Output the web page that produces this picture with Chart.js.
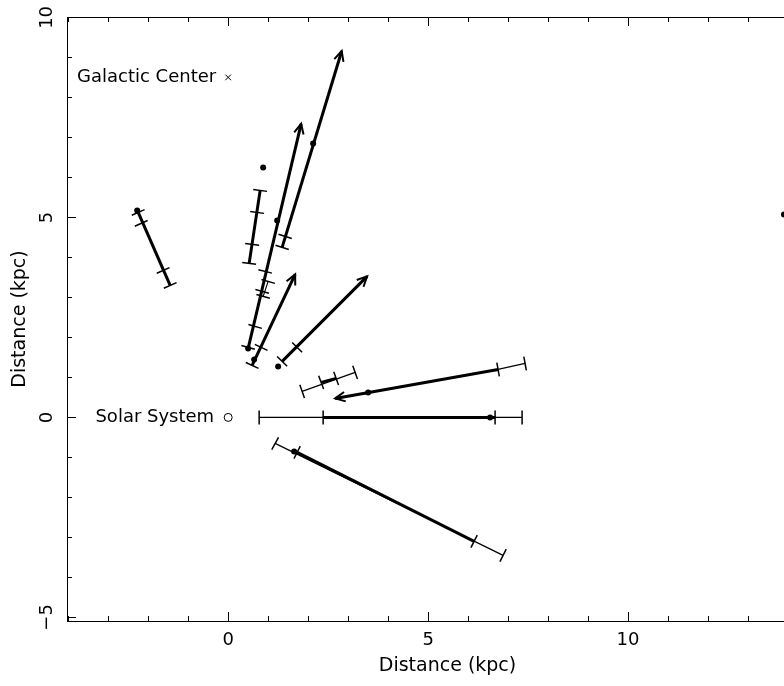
<!DOCTYPE html>
<html>
<head>
<meta charset="utf-8">
<script src="https://cdn.jsdelivr.net/npm/chart.js@4.4.1/dist/chart.umd.min.js"></script>
<style>
  html, body { margin: 0; padding: 0; background: #fff; overflow: hidden; }
  #wrap { position: relative; width: 860px; height: 686px; }
</style>
</head>
<body>
<div id="wrap"><canvas id="map-chart"></canvas></div>
<script>
// 坐标单位：kpc
const xTicks = [0, 5, 10];
const yTicks = [-5, 0, 5, 10];
const sunPos = [0, 0];
const centerPos = [0, 8.5];
const sunLabel = 'Solar System';
const centerLabel = 'Galactic Center';

// 细线：外侧距离范围 [x1, y1, x2, y2]
const thinSegs = [
  [0.775, 0, 7.35, 0],
  [1.175, -0.65, 6.875, -3.45],
  [1.85, 0.65, 3.175, 1.125],
  [6.75, 1.2, 7.425, 1.35],
  [1.0, 3.4, 0.875, 3.025]
];

// 粗线：内侧距离范围
const thickSegs = [
  [2.375, 0, 6.675, 0],
  [1.725, -0.875, 6.15, -3.1],
  [2.325, 0.875, 2.7, 0.975],
  [-2.25, 5.125, -1.45, 3.3],
  [0.8, 5.675, 0.525, 3.85]
];

// 箭头（无界范围），箭头在终点
const arrowSegs = [
  [1.35, 4.25, 2.84, 9.16],
  [0.5, 1.725, 1.825, 7.34],
  [0.6, 1.3, 1.675, 3.575],
  [1.35, 1.4, 3.475, 3.525],
  [6.75, 1.2, 2.675, 0.475]
];

// 端帽位置（垂直于视线方向）
const capPts = [
  [0.775, 0], [2.375, 0], [6.675, 0], [7.35, 0],
  [1.175, -0.65], [1.725, -0.875], [6.15, -3.1], [6.875, -3.45],
  [1.85, 0.65], [2.325, 0.875], [2.7, 0.975], [3.175, 1.125],
  [6.75, 1.2], [7.425, 1.35],
  [-2.25, 5.125], [-2.175, 4.85], [-1.625, 3.675], [-1.45, 3.3],
  [0.8, 5.675], [0.725, 5.125], [0.6, 4.325], [0.525, 3.85],
  [1.35, 4.25], [1.425, 4.525],
  [0.925, 3.65], [0.85, 3.15], [0.675, 2.275], [0.5, 1.75],
  [1.0, 3.4], [0.875, 3.025],
  [0.6, 1.3], [0.825, 1.75],
  [1.35, 1.4], [1.725, 1.75]
];

// 最佳估计位置
const dotX = [-2.275, 0.875, 2.125, 1.225, 0.5, 0.65, 1.25, 3.5, 6.55, 1.65, 13.9];
const dotY = [5.175, 6.25, 6.85, 4.925, 1.725, 1.45, 1.275, 0.625, 0, -0.85, 5.075];

Chart.defaults.font.family = '"DejaVu Sans", sans-serif';
Chart.defaults.color = '#000';

function segDataset(s, width) {
  return {
    type: 'line',
    data: [{x: s[0], y: s[1]}, {x: s[2], y: s[3]}],
    borderColor: '#000',
    borderWidth: width,
    pointRadius: 0,
    showLine: true,
    fill: false,
    borderCapStyle: 'butt'
  };
}

const datasets = [];
thinSegs.forEach(s => datasets.push(segDataset(s, 1.2)));
thickSegs.forEach(s => datasets.push(segDataset(s, 3)));
arrowSegs.forEach(s => datasets.push(segDataset(s, 3)));
datasets.push({
  data: dotX.map((x, i) => ({x: x, y: dotY[i]})),
  pointRadius: 3,
  pointBackgroundColor: '#000',
  pointBorderWidth: 0
});
datasets.push({
  data: [{x: centerPos[0], y: centerPos[1]}],
  pointStyle: 'crossRot',
  pointRadius: 4,
  borderColor: '#000',
  pointBorderWidth: 1
});
datasets.push({
  data: [{x: sunPos[0], y: sunPos[1]}],
  pointStyle: 'circle',
  pointRadius: 4,
  borderColor: '#000',
  pointBackgroundColor: '#fff',
  pointBorderWidth: 1
});
datasets.push({
  data: [{x: sunPos[0], y: sunPos[1]}],
  pointRadius: 1,
  pointBackgroundColor: '#000',
  pointBorderWidth: 0
});

const fmt = v => v < 0 ? '\u2212' + Math.abs(v) : String(v);

// 端帽、箭头、边框、内向刻度、标注
const decorPlugin = {
  id: 'decor',
  afterDatasetsDraw(chart) {
    const {ctx, scales: {x, y}, chartArea: a} = chart;
    ctx.save();
    ctx.beginPath();
    ctx.rect(a.left, a.top, a.right - a.left, a.bottom - a.top);
    ctx.clip();
    ctx.strokeStyle = '#000';

    // 端帽
    const sx = x.getPixelForValue(sunPos[0]);
    const sy = y.getPixelForValue(sunPos[1]);
    ctx.lineWidth = 1.5;
    capPts.forEach(p => {
      const px = x.getPixelForValue(p[0]);
      const py = y.getPixelForValue(p[1]);
      const dx = px - sx, dy = py - sy;
      const len = Math.hypot(dx, dy) || 1;
      const nx = -dy / len * 7, ny = dx / len * 7;
      ctx.beginPath();
      ctx.moveTo(px - nx, py - ny);
      ctx.lineTo(px + nx, py + ny);
      ctx.stroke();
    });

    // 箭头
    ctx.lineWidth = 2;
    arrowSegs.forEach(s => {
      const x1 = x.getPixelForValue(s[0]), y1 = y.getPixelForValue(s[1]);
      const x2 = x.getPixelForValue(s[2]), y2 = y.getPixelForValue(s[3]);
      const ang = Math.atan2(y2 - y1, x2 - x1);
      const h = 11, spread = 0.45;
      ctx.beginPath();
      ctx.moveTo(x2 - h * Math.cos(ang - spread), y2 - h * Math.sin(ang - spread));
      ctx.lineTo(x2, y2);
      ctx.lineTo(x2 - h * Math.cos(ang + spread), y2 - h * Math.sin(ang + spread));
      ctx.stroke();
    });
    ctx.restore();

    // 标注文字
    ctx.save();
    ctx.fillStyle = '#000';
    ctx.font = '18px "DejaVu Sans", sans-serif';
    ctx.textAlign = 'right';
    ctx.textBaseline = 'middle';
    ctx.fillText(centerLabel, x.getPixelForValue(centerPos[0]) - 12, y.getPixelForValue(centerPos[1]));
    ctx.fillText(sunLabel, x.getPixelForValue(sunPos[0]) - 14, y.getPixelForValue(sunPos[1]));
    ctx.restore();
  },
  afterDraw(chart) {
    const {ctx, scales: {x, y}, chartArea: a} = chart;
    ctx.save();
    ctx.strokeStyle = '#000';
    ctx.lineWidth = 1;
    ctx.strokeRect(Math.round(a.left) + 0.5, Math.round(a.top) + 0.5,
      Math.round(a.right - a.left), Math.round(a.bottom - a.top));

    ctx.beginPath();
    for (let v = Math.ceil(x.min); v <= x.max; v++) {
      const px = Math.round(x.getPixelForValue(v)) + 0.5;
      const len = v % 5 === 0 ? 9 : 5;
      ctx.moveTo(px, a.bottom); ctx.lineTo(px, a.bottom - len);
      ctx.moveTo(px, a.top); ctx.lineTo(px, a.top + len);
    }
    for (let v = Math.ceil(y.min); v <= y.max; v++) {
      const py = Math.round(y.getPixelForValue(v)) + 0.5;
      const len = v % 5 === 0 ? 9 : 5;
      ctx.moveTo(a.left, py); ctx.lineTo(a.left + len, py);
      ctx.moveTo(a.right, py); ctx.lineTo(a.right - len, py);
    }
    ctx.stroke();

    // 纵轴刻度标签（旋转）
    ctx.fillStyle = '#000';
    ctx.font = '18px "DejaVu Sans", sans-serif';
    ctx.textAlign = 'center';
    ctx.textBaseline = 'middle';
    yTicks.forEach(v => {
      ctx.save();
      ctx.translate(47, y.getPixelForValue(v));
      ctx.rotate(-Math.PI / 2);
      ctx.fillText(fmt(v), 0, 0);
      ctx.restore();
    });
    ctx.restore();
  }
};

new Chart(document.getElementById('map-chart').getContext('2d'), {
  type: 'scatter',
  data: { datasets: datasets },
  options: {
    responsive: true,
    maintainAspectRatio: false,
    animation: false,
    layout: { padding: { top: 17, right: 32, left: 0, bottom: 0 } },
    plugins: {
      legend: { display: false },
      tooltip: { enabled: false }
    },
    scales: {
      x: {
        type: 'linear',
        min: -4.03,
        max: 15,
        afterBuildTicks: s => { s.ticks = xTicks.map(v => ({value: v})); },
        afterFit: s => { s.height = 65; },
        grid: { display: false, drawTicks: false },
        border: { display: false },
        ticks: { font: { size: 18 }, padding: 9, callback: v => fmt(v), maxRotation: 0 },
        title: { display: true, text: 'Distance (kpc)', font: { size: 19 }, padding: { top: 0, bottom: 9 } }
      },
      y: {
        type: 'linear',
        min: -5.09,
        max: 10.01,
        afterFit: s => { s.width = 67; },
        grid: { display: false, drawTicks: false },
        border: { display: false },
        ticks: { display: false },
        title: { display: true, text: 'Distance (kpc)', font: { size: 19 }, padding: { top: 9, bottom: 0 } }
      }
    }
  },
  plugins: [decorPlugin]
});
</script>
</body>
</html>
